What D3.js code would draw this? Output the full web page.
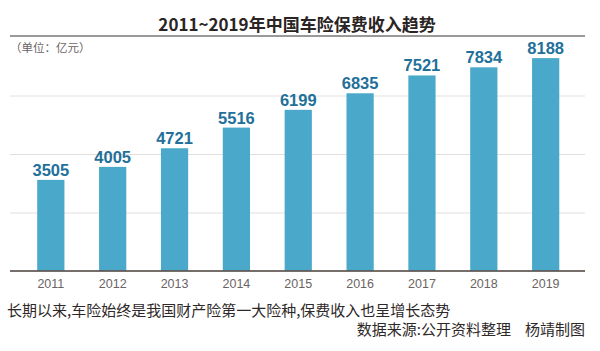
<!DOCTYPE html>
<html>
<head>
<meta charset="utf-8">
<script src="https://cdn.jsdelivr.net/npm/d3@7"></script>
<style>
    body { margin: 0; background: #fff; }
    svg { display: block; font-family: "Noto Sans CJK SC", "Liberation Sans", sans-serif; }
</style>
</head>
<body>
<svg id="chart"></svg>
<script>
// data
const years = ['2011', '2012', '2013', '2014', '2015', '2016', '2017', '2018', '2019'];
const premiums = [3505, 4005, 4721, 5516, 6199, 6835, 7521, 7834, 8188];
const gridTicks = [2250, 4500, 6750];

const titleText = '2011~2019年中国车险保费收入趋势';
const unitText = '（单位：亿元）';
const noteText = '长期以来,车险始终是我国财产险第一大险种,保费收入也呈增长态势';
const sourceText = '数据来源:公开资料整理';
const authorText = '杨靖制图';

class PremiumChart {

    constructor(_config) {
        this.config = {
            parentElement: _config.parentElement,
            containerWidth: 600,
            containerHeight: 351,
            left: 10,
            right: 585,
            baseline: 271,
            top: 37,
            barColour: '#4aa8ca',
            labelColour: '#22709a',
            gridColour: '#e2dede',
            axisColour: '#5d5551'
        }
    }

    initVis() {
        let vis = this;
        let c = vis.config;

        vis.svg = d3.select(c.parentElement)
            .attr('width', c.containerWidth)
            .attr('height', c.containerHeight);

        vis.xScale = d3.scaleBand()
            .domain(years)
            .range([19.9, 576.6])
            .paddingInner(0.56)
            .paddingOuter(0.28);

        vis.yScale = d3.scaleLinear()
            .domain([0, 9000])
            .range([c.baseline, c.top]);

        // title + rule
        vis.svg.append('text')
            .attr('x', 297)
            .attr('y', 31)
            .attr('text-anchor', 'middle')
            .attr('font-size', '17px')
            .attr('font-weight', 'bold')
            .attr('fill', '#2a2424')
            .text(titleText);

        vis.svg.append('line')
            .attr('x1', c.left).attr('x2', c.right)
            .attr('y1', 36).attr('y2', 36)
            .attr('stroke', '#7a7676')
            .attr('stroke-width', 1.5);

        vis.svg.append('text')
            .attr('x', c.left)
            .attr('y', 52)
            .attr('font-size', '11.5px')
            .attr('fill', '#6a6464')
            .text(unitText);

        // grid lines
        vis.gridAxis = d3.axisLeft(vis.yScale)
            .tickValues(gridTicks)
            .tickFormat('')
            .tickSize(-(c.right - c.left));

        vis.gridG = vis.svg.append('g')
            .attr('transform', `translate(${c.left},0)`)
            .call(vis.gridAxis);
        vis.gridG.select('.domain').remove();
        vis.gridG.selectAll('.tick line')
            .attr('stroke', c.gridColour)
            .attr('stroke-width', 1);

        // bars
        vis.bars = vis.svg.selectAll('.bar')
            .data(premiums)
            .join('rect')
            .attr('class', 'bar')
            .attr('x', (d, i) => vis.xScale(years[i]))
            .attr('y', d => vis.yScale(d))
            .attr('width', vis.xScale.bandwidth())
            .attr('height', d => c.baseline - vis.yScale(d))
            .attr('fill', c.barColour);

        vis.labels = vis.svg.selectAll('.value-label')
            .data(premiums)
            .join('text')
            .attr('class', 'value-label')
            .attr('x', (d, i) => vis.xScale(years[i]) + vis.xScale.bandwidth() / 2)
            .attr('y', d => vis.yScale(d) - 4)
            .attr('text-anchor', 'middle')
            .attr('font-family', '"Liberation Sans", Arial, sans-serif')
            .attr('font-size', '16.5px')
            .attr('font-weight', 'bold')
            .attr('fill', c.labelColour)
            .text(d => d);

        // x axis
        vis.xAxis = d3.axisBottom(vis.xScale)
            .tickSize(0)
            .tickPadding(8);

        vis.xAxisG = vis.svg.append('g')
            .attr('transform', `translate(0,${c.baseline})`)
            .call(vis.xAxis);
        vis.xAxisG.select('.domain').remove();
        vis.xAxisG.selectAll('.tick text')
            .attr('font-family', '"Liberation Sans", Arial, sans-serif')
            .attr('font-size', '12.5px')
            .attr('fill', '#6a6464');

        vis.svg.append('line')
            .attr('x1', c.left).attr('x2', c.right)
            .attr('y1', c.baseline).attr('y2', c.baseline)
            .attr('stroke', c.axisColour)
            .attr('stroke-opacity', 0.85)
            .attr('stroke-width', 2);

        // footnotes
        vis.svg.append('text')
            .attr('x', 7)
            .attr('y', 316)
            .attr('font-size', '15px')
            .attr('fill', '#2e2828')
            .text(noteText);

        vis.svg.append('text')
            .attr('x', 511)
            .attr('y', 335)
            .attr('text-anchor', 'end')
            .attr('font-size', '15px')
            .attr('fill', '#2e2828')
            .text(sourceText);

        vis.svg.append('text')
            .attr('x', 585)
            .attr('y', 335)
            .attr('text-anchor', 'end')
            .attr('font-size', '15px')
            .attr('fill', '#2e2828')
            .text(authorText);
    }
}

const chart = new PremiumChart({ parentElement: '#chart' });
chart.initVis();
</script>
</body>
</html>
